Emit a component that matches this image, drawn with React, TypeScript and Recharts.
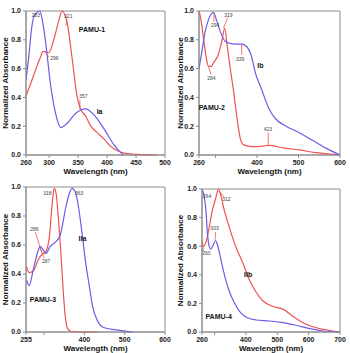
import React from 'react';
import { LineChart, Line, XAxis, YAxis, ReferenceDot, ReferenceLine, ReferenceArea } from 'recharts';

const RED = '#ee5252';
const BLUE = '#6b5de6';
const FRAME = '#8c8c8c';

// PAMU-1 / Ia
const iaWl = [260, 265, 270, 276, 284, 288, 294, 302, 311, 320, 331, 346, 363, 377, 395, 412, 424, 429];
const iaAbs = [0.52, 0.69, 0.89, 0.98, 1.0, 0.94, 0.78, 0.5, 0.29, 0.19, 0.22, 0.29, 0.32, 0.28, 0.18, 0.07, 0.015, 0];
const pamu1Wl = [260, 273, 284, 290, 299, 308, 317, 322, 331, 340, 348, 354, 363, 372, 383, 395, 406, 418, 435, 458, 487];
const pamu1Abs = [0.41, 0.55, 0.67, 0.72, 0.71, 0.8, 0.94, 1.0, 0.92, 0.66, 0.41, 0.32, 0.27, 0.2, 0.155, 0.11, 0.06, 0.03, 0.01, 0.003, 0];

// PAMU-2 / Ib
const ibWl = [260, 267, 275, 283, 295, 303, 311, 323, 335, 348, 364, 376, 385, 397, 409, 429, 445, 470, 502, 535, 567, 600];
const ibAbs = [0.6, 0.72, 0.86, 0.94, 0.99, 0.93, 0.86, 0.79, 0.775, 0.77, 0.77, 0.75, 0.7, 0.56, 0.47, 0.32, 0.25, 0.2, 0.155, 0.1, 0.046, 0];
const pamu2Wl = [260, 264, 271, 279, 283, 289, 295, 307, 315, 322, 328, 336, 344, 352, 360, 368, 388, 413, 429, 462, 502, 543, 600];
const pamu2Abs = [1.0, 0.95, 0.81, 0.65, 0.615, 0.615, 0.64, 0.7, 0.79, 0.88, 0.76, 0.59, 0.43, 0.25, 0.11, 0.07, 0.058, 0.062, 0.067, 0.05, 0.035, 0.016, 0];

// PAMU-3 / IIa
const iiaWl = [256, 263, 273, 284, 290, 299, 304, 315, 328, 339, 345, 353, 361, 369, 378, 386, 395, 403, 412, 420, 432, 445, 466, 491, 520];
const iiaAbs = [0.36, 0.32, 0.43, 0.55, 0.59, 0.56, 0.54, 0.59, 0.62, 0.66, 0.73, 0.85, 0.94, 0.99, 0.96, 0.85, 0.66, 0.48, 0.32, 0.18, 0.08, 0.035, 0.02, 0.01, 0];
const pamu3Wl = [256, 263, 273, 284, 290, 297, 303, 309, 314, 318, 322, 325, 330, 335, 341, 347, 352, 358, 366, 390, 432];
const pamu3Abs = [0.45, 0.41, 0.42, 0.49, 0.52, 0.54, 0.55, 0.59, 0.68, 0.82, 0.94, 0.99, 0.95, 0.8, 0.57, 0.3, 0.12, 0.025, 0.005, 0, 0];

// PAMU-4 / IIb
const iibWl = [260, 265, 273, 282, 292, 303, 312, 319, 330, 346, 367, 389, 410, 432, 453, 485, 518, 550, 582, 625, 668, 700];
const iibAbs = [0.64, 0.6, 0.63, 0.72, 0.84, 0.93, 0.995, 0.965, 0.86, 0.74, 0.6, 0.49, 0.37, 0.28, 0.22, 0.18, 0.16, 0.11, 0.065, 0.03, 0.01, 0];
const pamu4Wl = [260, 267, 273, 277, 282, 288, 294, 303, 309, 316, 324, 335, 346, 362, 383, 405, 432, 475, 518, 560, 603, 646, 700];
const pamu4Abs = [1.0, 0.95, 0.84, 0.7, 0.61, 0.58, 0.6, 0.64, 0.61, 0.55, 0.47, 0.37, 0.29, 0.21, 0.135, 0.1, 0.084, 0.077, 0.065, 0.047, 0.023, 0.007, 0];

const yTicks = [0, 0.2, 0.4, 0.6, 0.8, 1.0];

const toPoints = (wl: number[], abs: number[]) => wl.map((x, i) => ({ x, y: abs[i] }));

type Note = { text: string; x: number; y: number; line?: [number, number, number, number] };
type Tag = { text: string; x: number; y: number };

interface PanelProps {
  left: number;
  top: number;
  width: number;
  height: number;
  marginTop: number;
  yAxisWidth: number;
  domain: [number, number];
  ticks: number[];
  hideTick?: number;
  series: { points: { x: number; y: number }[]; color: string }[];
  tags: Tag[];
  notes: Note[];
}

const tickStyle = { fontSize: 7, fontWeight: 'bold', fill: '#222' };

const Panel: React.FC<PanelProps> = ({ left, top, width, height, marginTop, yAxisWidth, domain, ticks, hideTick, series, tags, notes }) => (
  <div style={{ position: 'absolute', left, top }}>
    <LineChart width={width} height={height} margin={{ top: marginTop, right: 10, left: 0, bottom: 0 }}>
      <XAxis
        dataKey="x"
        type="number"
        domain={domain}
        ticks={ticks}
        interval={0}
        allowDataOverflow
        tickFormatter={(v) => (v === hideTick ? '' : String(v))}
        tick={tickStyle}
        tickSize={3}
        stroke={FRAME}
        height={21}
        label={{ value: 'Wavelength (nm)', position: 'insideBottom', offset: 2, fontSize: 8, fontWeight: 'bold', fill: '#111' }}
      />
      <YAxis
        type="number"
        domain={[0, 1]}
        ticks={yTicks}
        tickFormatter={(v) => v.toFixed(1)}
        tick={tickStyle}
        tickSize={3}
        stroke={FRAME}
        width={yAxisWidth}
        label={{ value: 'Normalized Absorbance', angle: -90, position: 'insideLeft', offset: 5, style: { textAnchor: 'middle' }, fontSize: 8, fontWeight: 'bold', fill: '#111' }}
      />
      {/* plot frame */}
      <ReferenceArea x1={domain[0]} x2={domain[1]} y1={0} y2={1} fill="none" stroke={FRAME} strokeWidth={1} />
      {series.map((s, i) => (
        <Line
          key={i}
          data={s.points}
          dataKey="y"
          type="monotone"
          stroke={s.color}
          strokeWidth={1.2}
          dot={false}
          isAnimationActive={false}
        />
      ))}
      {notes.filter((n) => n.line).map((n, i) => (
        <ReferenceLine
          key={'l' + i}
          segment={[{ x: n.line![0], y: n.line![1] }, { x: n.line![2], y: n.line![3] }]}
          stroke={RED}
          strokeWidth={0.8}
        />
      ))}
      {notes.map((n, i) => (
        <ReferenceDot
          key={'n' + i}
          x={n.x}
          y={n.y}
          r={0}
          fill="none"
          stroke="none"
          label={{ value: n.text, position: 'center', fontSize: 5, fill: '#444' }}
        />
      ))}
      {tags.map((t, i) => (
        <ReferenceDot
          key={'t' + i}
          x={t.x}
          y={t.y}
          r={0}
          fill="none"
          stroke="none"
          label={{ value: t.text, position: 'center', fontSize: 7, fontWeight: 'bold', fill: '#111' }}
        />
      ))}
    </LineChart>
  </div>
);

export default function App() {
  return (
    <div style={{ position: 'absolute', left: 0, top: 0, width: 350, height: 353, background: '#fff', fontFamily: '"Liberation Sans", Arial, sans-serif' }}>
      <Panel
        left={0}
        top={0}
        width={175}
        height={176}
        marginTop={11}
        yAxisWidth={26}
        domain={[260, 500]}
        ticks={[260, 300, 350, 400, 450, 500]}
        series={[
          { points: toPoints(pamu1Wl, pamu1Abs), color: RED },
          { points: toPoints(iaWl, iaAbs), color: BLUE },
        ]}
        tags={[
          { text: 'PAMU-1', x: 374, y: 0.87 },
          { text: 'Ia', x: 387, y: 0.3 },
        ]}
        notes={[
          { text: '283', x: 277, y: 0.97 },
          { text: '321', x: 333, y: 0.965, line: [331, 0.945, 329, 0.9] },
          { text: '296', x: 309, y: 0.67, line: [292, 0.718, 300, 0.68] },
          { text: '357', x: 359, y: 0.405, line: [353, 0.385, 353, 0.32] },
        ]}
      />
      <Panel
        left={175}
        top={0}
        width={175}
        height={176}
        marginTop={11}
        yAxisWidth={24}
        domain={[260, 600]}
        ticks={[260, 300, 400, 500, 600]}
        hideTick={300}
        series={[
          { points: toPoints(pamu2Wl, pamu2Abs), color: RED },
          { points: toPoints(ibWl, ibAbs), color: BLUE },
        ]}
        tags={[
          { text: 'Ib', x: 408, y: 0.62 },
          { text: 'PAMU-2', x: 291, y: 0.33 },
        ]}
        notes={[
          { text: '294', x: 299, y: 0.9, line: [296, 0.985, 296, 0.925] },
          { text: '284', x: 290, y: 0.535, line: [283, 0.61, 289, 0.56] },
          { text: '319', x: 331, y: 0.97, line: [319, 0.88, 329, 0.955] },
          { text: '339', x: 359, y: 0.667, line: [363, 0.765, 363, 0.695] },
          { text: '423', x: 426, y: 0.176, line: [427, 0.154, 427, 0.068] },
        ]}
      />
      <Panel
        left={0}
        top={176}
        width={175}
        height={177}
        marginTop={11}
        yAxisWidth={26}
        domain={[255, 600]}
        ticks={[255, 300, 400, 500, 600]}
        hideTick={300}
        series={[
          { points: toPoints(pamu3Wl, pamu3Abs), color: RED },
          { points: toPoints(iiaWl, iiaAbs), color: BLUE },
        ]}
        tags={[
          { text: 'IIa', x: 395, y: 0.643 },
          { text: 'PAMU-3', x: 297, y: 0.223 },
        ]}
        notes={[
          { text: '318', x: 308, y: 0.96 },
          { text: '363', x: 387, y: 0.96 },
          { text: '286', x: 276, y: 0.71, line: [278, 0.69, 294, 0.55] },
          { text: '287', x: 305, y: 0.485, line: [290, 0.58, 300, 0.51] },
        ]}
      />
      <Panel
        left={175}
        top={176}
        width={175}
        height={177}
        marginTop={13}
        yAxisWidth={27}
        domain={[260, 700]}
        ticks={[260, 300, 400, 500, 600, 700]}
        hideTick={300}
        series={[
          { points: toPoints(iibWl, iibAbs), color: RED },
          { points: toPoints(pamu4Wl, pamu4Abs), color: BLUE },
        ]}
        tags={[
          { text: 'IIb', x: 407, y: 0.4 },
          { text: 'PAMU-4', x: 313, y: 0.105 },
        ]}
        notes={[
          { text: '264', x: 276, y: 0.95 },
          { text: '312', x: 338, y: 0.93, line: [315, 0.985, 330, 0.945] },
          { text: '303', x: 300, y: 0.727, line: [303, 0.7, 302, 0.645] },
          { text: '260', x: 274, y: 0.55, line: [260, 0.63, 265, 0.565] },
        ]}
      />
    </div>
  );
}
